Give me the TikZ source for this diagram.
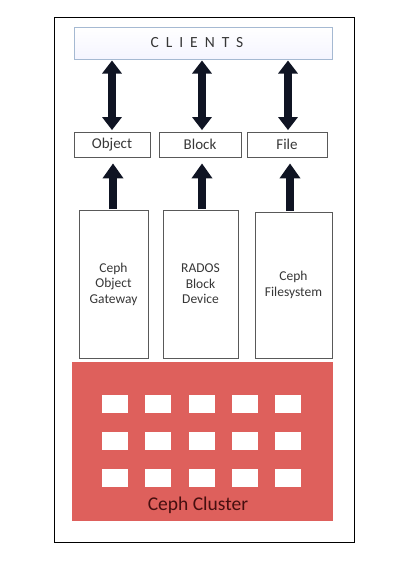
\documentclass[tikz,border=0pt]{standalone}
\usepackage{fontspec}
\setmainfont{Carlito}
\usetikzlibrary{arrows.meta}
\definecolor{clusterred}{RGB}{222,96,92}
\definecolor{clientborder}{RGB}{165,185,210}
\definecolor{clusterText}{RGB}{70,15,15}
\definecolor{arrowcol}{RGB}{15,20,35}
\definecolor{txt}{RGB}{55,55,55}
\begin{document}
\begin{tikzpicture}[x=1pt,y=-1pt,
  box/.style={draw=black!65,line width=0.8pt,fill=white,inner sep=0pt,text=txt},
  sq/.style={fill=white,draw=none,minimum width=26pt,minimum height=18pt,inner sep=0pt},
  dbl/.style={draw=arrowcol,line width=7.5pt,{Triangle[width=19pt,length=13pt]}-{Triangle[width=19pt,length=13pt]},shorten <=1.5pt,shorten >=1pt},
  up/.style={draw=arrowcol,line width=7.5pt,-{Triangle[width=20pt,length=15pt]},shorten <=0.5pt,shorten >=6pt},
  small/.style={font=\fontsize{15pt}{17pt}\selectfont},
  tall/.style={align=center,font=\fontsize{13.5pt}{15.5pt}\selectfont}]
\useasboundingbox (0,0) rectangle (404,571);
\node[draw=black,line width=1pt,minimum width=300pt,minimum height=525pt,inner sep=0pt] (frame) at (204,279.5) {};
% clients
\node[draw=clientborder,line width=1pt,top color=white,bottom color=blue!4,minimum width=258pt,minimum height=32pt,inner sep=0pt,text=txt] (clients) at (203,43) {\kern-12pt\fontsize{15.5pt}{17pt}\selectfont\addfontfeature{LetterSpace=45}CLIENTS};
% small boxes
\node[box,small,minimum width=76pt,minimum height=25pt] (obj) at (112,144.5) {Object};
\node[box,small,minimum width=82pt,minimum height=25pt] (blk) at (200,144.5) {Block};
\node[box,small,minimum width=80pt,minimum height=25pt] (fil) at (287,144.5) {File};
% tall boxes
\node[box,tall,minimum width=69pt,minimum height=148pt] (gw) at (113.5,284) {Ceph\\Object\\Gateway};
\node[box,tall,minimum width=75pt,minimum height=148pt] (rbd) at (200.5,284) {RADOS\\Block\\Device};
\node[box,tall,minimum width=77pt,minimum height=146pt] (fs) at (293.5,285) {\raisebox{-3pt}{\shortstack{Ceph\\[1pt]Filesystem}}};
% arrows
\draw[dbl] (obj.north) -- (obj.north |- clients.south);
\draw[dbl] ([xshift=2pt]blk.north) -- ([xshift=2pt]blk.north |- clients.south);
\draw[dbl] ([xshift=1pt]fil.north) -- ([xshift=1pt]fil.north |- clients.south);
\draw[up] ([xshift=1pt]obj.south |- gw.north) -- ([xshift=1pt]obj.south);
\draw[up] ([xshift=2pt]blk.south |- rbd.north) -- ([xshift=2pt]blk.south);
\draw[up] ([xshift=3pt]fil.south |- fs.north) -- ([xshift=3pt]fil.south);
% cluster
\node[fill=clusterred,minimum width=261pt,minimum height=159pt,inner sep=0pt] (cluster) at (202.5,441.5) {};
\foreach \r/\y in {1/404,2/441,3/478}{
  \foreach \c/\x in {1/115,2/158,3/202,4/245,5/288}{
    \node[sq] (s\r\c) at (\x,\y) {};
  }
}
\node[text=clusterText,font=\fontsize{19.5pt}{21pt}\selectfont] (clabel) at (198,505) {Ceph Cluster};
\end{tikzpicture}
\end{document}
